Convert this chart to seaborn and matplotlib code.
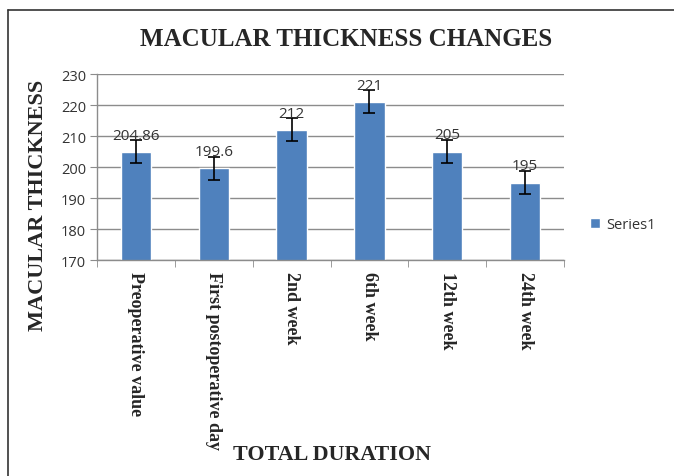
import matplotlib
matplotlib.use("Agg")
import matplotlib.pyplot as plt
import seaborn as sns
import pandas as pd
import numpy as np
from matplotlib.lines import Line2D

categories = ["Preoperative value", "First postoperative day", "2nd week",
              "6th week", "12th week", "24th week"]
values = [204.86, 199.6, 212, 221, 205, 195]
errors = [3.7, 3.7, 3.7, 3.7, 3.7, 3.7]
value_labels = ["204.86", "199.6", "212", "221", "205", "195"]
yticks = [170, 180, 190, 200, 210, 220, 230]
series_name = "Series1"

sns.set_style("white")
bar_color = "#4F81BD"
grid_color = "#8C8C8C"

df = pd.DataFrame({"cat": categories, "val": values})

fig = plt.figure(figsize=(6.74, 4.77), dpi=100)
ax = fig.add_axes([97/674, 1-261/477, (564-97)/674, (261-75)/477])

sns.barplot(data=df, x="cat", y="val", color=bar_color, saturation=1,
            width=0.39, ax=ax, errorbar=None, label=series_name, zorder=2)
ax.errorbar(np.arange(len(values)), values, yerr=errors, fmt="none",
            ecolor="black", elinewidth=1.2, capsize=4, capthick=1.2, zorder=3)

for i, (v, lab) in enumerate(zip(values, value_labels)):
    ax.annotate(lab, (i, v), xytext=(0, 12), textcoords="offset points",
                ha="center", va="center", fontsize=11, color="#333333",
                family="Open Sans", zorder=4)

ax.set_ylim(170, 230)
ax.set_xlim(-0.5, len(categories) - 0.5)
ax.set_yticks(yticks)
ax.set_yticklabels([str(t) for t in yticks], fontsize=10.5, color="#333333",
                   family="Open Sans")
ax.yaxis.grid(True, color=grid_color, linewidth=1.0)
ax.set_axisbelow(True)

for s in ["top", "right"]:
    ax.spines[s].set_visible(False)
ax.spines["left"].set_color(grid_color)
ax.spines["bottom"].set_color(grid_color)
ax.spines["left"].set_linewidth(1.0)
ax.spines["bottom"].set_linewidth(1.0)

ax.tick_params(axis="y", length=5, color=grid_color, left=True, pad=3)
ax.set_xticks(np.arange(len(categories)))
ax.set_xticklabels(categories, rotation=-90, fontsize=13, fontweight="bold",
                   family="Liberation Serif", va="top", ha="center")
ax.tick_params(axis="x", length=0, pad=8)
ax.set_xticks(np.arange(-0.5, len(categories), 1.0), minor=True)
ax.tick_params(axis="x", which="minor", length=5, color=grid_color, bottom=True)

ax.set_xlabel("")
ax.set_ylabel("")

fig.text(346/674, 1-40/477, "MACULAR THICKNESS CHANGES", ha="center", va="center",
         fontsize=18, fontweight="bold", family="Liberation Serif")
fig.text(38/674, 1-205/477, "MACULAR THICKNESS", ha="center", va="center",
         rotation=90, fontsize=16, fontweight="bold", family="Liberation Serif")
fig.text(332/674, 1-455/477, "TOTAL DURATION", ha="center", va="center",
         fontsize=15.8, fontweight="bold", family="Liberation Serif")

leg = ax.legend(loc="center left", bbox_to_anchor=(1.028, 0.19), frameon=False,
                handlelength=0.7, handleheight=0.7, handletextpad=0.4,
                prop={"family": "Open Sans", "size": 10.5})
for t in leg.get_texts():
    t.set_color("#333333")

fig.add_artist(Line2D([8/674, 8/674], [0, 1-11/477], transform=fig.transFigure,
                      color="#333333", linewidth=1.2))
fig.add_artist(Line2D([8/674, 1], [1-11/477, 1-11/477], transform=fig.transFigure,
                      color="#333333", linewidth=1.2))

fig.savefig("out.png", dpi=100)
